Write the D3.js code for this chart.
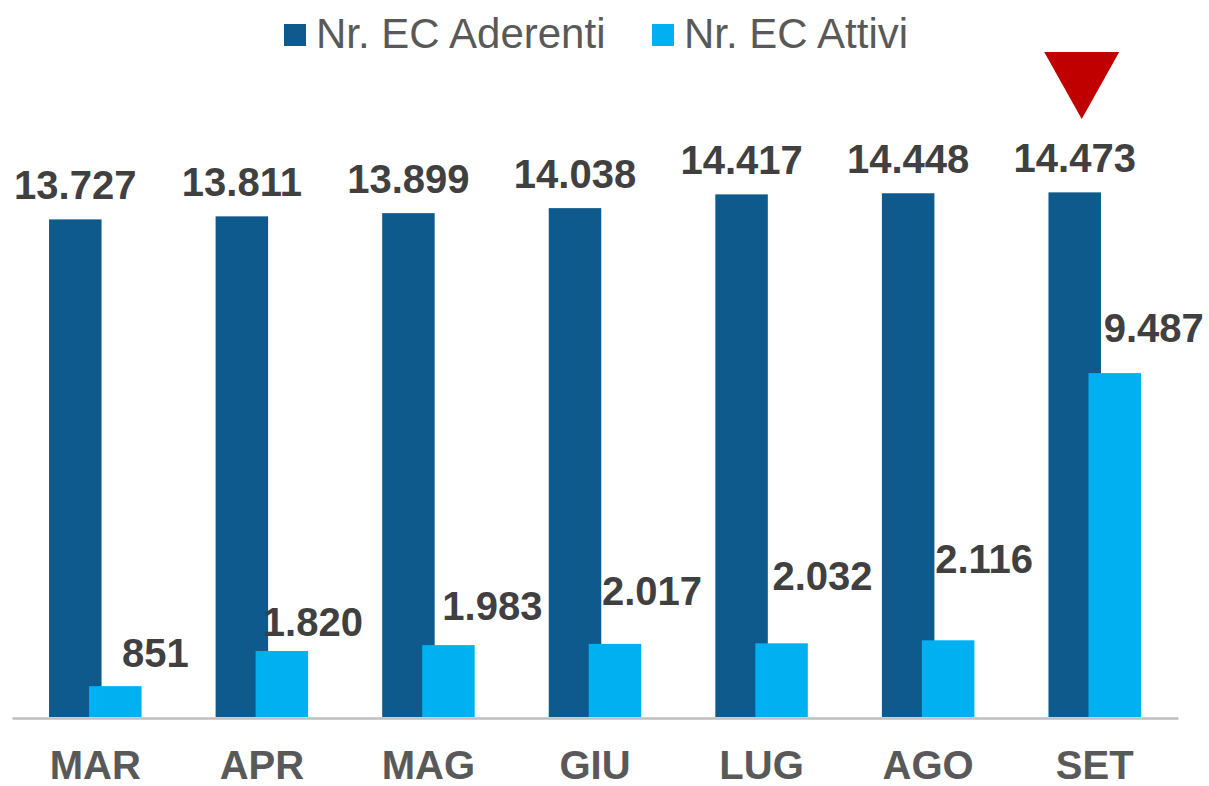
<!DOCTYPE html>
<html>
<head>
<meta charset="utf-8">
<script src="https://cdn.jsdelivr.net/npm/d3@7"></script>
<style>
  body { margin: 0; background: #fff; }
  svg { font-family: "Liberation Sans", Arial, sans-serif; }
</style>
</head>
<body>
<svg id="chart" width="1209" height="786"></svg>
<script>
// data
var mesi = ["MAR", "APR", "MAG", "GIU", "LUG", "AGO", "SET"];
var serie = ["Nr. EC Aderenti", "Nr. EC Attivi"];
var aderenti = [13727, 13811, 13899, 14038, 14417, 14448, 14473];
var attivi = [851, 1820, 1983, 2017, 2032, 2116, 9487];
var colori = ["#0F5A8C", "#00B0F0"];

// hand placed labels of the light bars (dx from bar centre, lift above bar top)
var attiviDx = [40, 31, 44, 37, 41, 36, 39];
var attiviLift = [19, 15, 25, 39, 53, 67, 31];

var it = d3.formatLocale({decimal: ",", thousands: ".", grouping: [3], currency: ["€", ""]});
var fmt = it.format(",d");

var svg = d3.select("#chart");

var x = d3.scaleBand()
    .domain(mesi)
    .range([12, 1178]);

// the two bars overlap a little, so the sub-scale is narrower than the bars
var x1 = d3.scaleBand()
    .domain(serie)
    .range([-40, 40]);
var barW = 52.5;

var y = d3.scaleLinear()
    .domain([0, 16000])
    .range([717, 137]);

var rows = mesi.map(function(m, i) {
  return {mese: m, i: i, vals: [aderenti[i], attivi[i]]};
});

var group = svg.selectAll("g.mese")
    .data(rows)
  .enter().append("g")
    .attr("class", "mese")
    .attr("transform", function(d) { return "translate(" + (x(d.mese) + x.bandwidth() / 2) + ",0)"; });

group.selectAll("rect")
    .data(function(d) { return serie.map(function(s, k) { return {s: s, k: k, v: d.vals[k]}; }); })
  .enter().append("rect")
    .attr("x", function(d) { return x1(d.s) + x1.bandwidth() / 2 - barW / 2; })
    .attr("y", function(d) { return y(d.v); })
    .attr("width", barW)
    .attr("height", function(d) { return y(0) - y(d.v); })
    .attr("fill", function(d) { return colori[d.k]; });

// labels of the dark bars
group.append("text")
    .attr("x", x1(serie[0]) + x1.bandwidth() / 2)
    .attr("y", function(d) { return y(d.vals[0]) - 20; })
    .attr("text-anchor", "middle")
    .attr("font-size", 40)
    .attr("font-weight", "bold")
    .attr("fill", "#404040")
    .text(function(d) { return fmt(d.vals[0]); });

// labels of the light bars
group.append("text")
    .attr("x", function(d) { return x1(serie[1]) + x1.bandwidth() / 2 + attiviDx[d.i]; })
    .attr("y", function(d) { return y(d.vals[1]) - attiviLift[d.i]; })
    .attr("text-anchor", "middle")
    .attr("font-size", 40)
    .attr("font-weight", "bold")
    .attr("fill", "#404040")
    .text(function(d) { return fmt(d.vals[1]); });

// axis
var xAxis = d3.axisBottom(x).tickSize(0).tickPadding(0);
var ax = svg.append("g")
    .attr("transform", "translate(0," + (y(0) + 1) + ")")
    .call(xAxis);
ax.select(".domain").attr("stroke", "#BFBFBF").attr("stroke-width", 2.5);
ax.selectAll(".tick text")
    .attr("y", 61)
    .attr("dy", null)
    .attr("font-family", "Liberation Sans, Arial, sans-serif")
    .attr("font-size", 40)
    .attr("font-weight", "bold")
    .attr("fill", "#595959");

// red marker over the last month
var last = mesi[mesi.length - 1];
var cx = x(last) + x.bandwidth() / 2 - 13;
svg.append("path")
    .attr("d", "M" + (cx - 37.5) + ",52 L" + (cx + 37.5) + ",52 L" + cx + ",119 Z")
    .attr("fill", "#C00000");

// legend
var legX = [284, 652];
var leg = svg.selectAll("g.leg")
    .data(serie)
  .enter().append("g")
    .attr("class", "leg")
    .attr("transform", function(d, i) { return "translate(" + legX[i] + ",0)"; });
leg.append("rect")
    .attr("y", 24)
    .attr("width", 22)
    .attr("height", 22)
    .attr("fill", function(d, i) { return colori[i]; });
leg.append("text")
    .attr("x", 32)
    .attr("y", 48)
    .attr("font-size", 42)
    .attr("fill", "#595959")
    .text(function(d) { return d; });
</script>
</body>
</html>
